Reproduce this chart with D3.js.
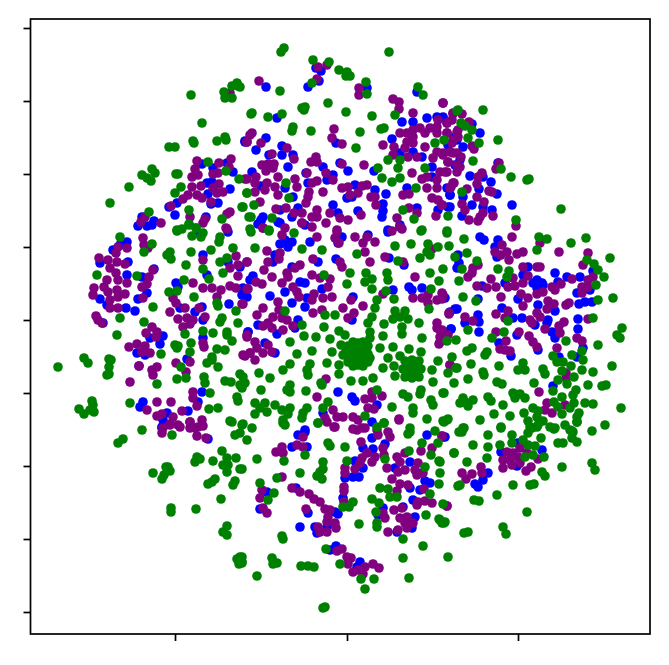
<!DOCTYPE html>
<html>
<head>
<meta charset="utf-8">
<script src="https://cdnjs.cloudflare.com/ajax/libs/d3/7.8.5/d3.min.js"></script>
<style>
  html, body { margin: 0; padding: 0; background: #fff; }
  svg { display: block; }
</style>
</head>
<body>
<div id="chart"></div>
<script>
const SVG_W = 669;
const SVG_H = 665;
const DOT_R = 4.8;

// axis ticks carry no labels in the source, units are embedding units
const xTicks = [-172, 0, 171];
const yTicks = [-292, -219, -146, -73, 0, 73, 146, 219, 292];

const blue = [
[-102,178],[-145,156],[-134,152],[-120,157],[-114,148],[-140,137],[-135,138],[-117,131],[-139,126],[-129,117],[-136,116],[-170,117],[-178,113],[-172,105],[-141,103],[-193,99],[-205,103],[-209,94],[-200,94],[-195,95],[-119,88],
[-81,233],[-39,233],[-28,239],[-31,252],[-26,249],[70,228],[20,232],[-70,202],[-102,179],[-81,182],[-91,170],[-11,177],[-65,174],[-78,165],[-65,165],[-54,165],[-59,153],[-7,157],[1,149],[-24,153],[-95,148],[-41,147],[-14,145],[-39,137],[-20,140],[8,135],[27,149],[28,130],[39,126],[0,122],[5,123],[-54,123],[-62,132],[-86,134],[-14,115],[-49,112],[11,109],[36,116],[36,109],[35,103],[-84,103],[-86,100],[-55,103],[-67,110],[55,198],[66,198],[80,202],[45,181],[96,203],[53,167],[66,168],[85,153],[60,132],[70,112],[103,125],[101,113],[91,110],[85,143],[75,163],[110,180],[53,95],[41,90],[90,203],[-67,97],[-89,96],[-42,95],[-9,107],
[96,202],[125,196],[133,187],[108,183],[116,173],[101,175],[113,160],[108,155],[123,144],[136,143],[144,138],[150,126],[100,132],[103,125],[132,131],[116,123],[165,115],[125,115],[103,113],[136,113],[145,110],[115,104],[151,157],
[-220,78],[-234,70],[-227,75],[-247,57],[-219,58],[-193,51],[-220,45],[-205,43],[-200,27],[-209,21],[-171,37],[-169,33],[-247,21],[-240,15],[-221,12],[-212,9],[-145,13],[-152,8],[-167,12],[-144,0],[-118,16],[-144,65],[-140,45],[-97,40],[-100,23],[-119,58],[-244,-3],[-184,-16],[-197,-18],[-187,-24],[-210,-33],[-202,-35],[-208,-46],[-160,-39],[-144,-18],[-145,-72],[-149,-82],[-204,-82],[-207,-87],[-180,-93],[-159,-91],[-184,-100],[-185,-108],[-99,-12],[-149,87],
[-86,99],[-69,98],[-55,78],[-62,80],[-67,76],[-59,73],[-72,65],[-74,58],[-37,78],[-5,83],[-9,77],[21,85],[41,88],[53,93],[42,62],[-29,58],[-11,61],[57,55],[111,65],[-55,53],[-94,44],[-47,38],[-42,37],[-25,31],[62,33],[65,30],[75,32],[46,30],[98,22],[-62,28],[-77,24],[-40,22],[-42,13],[-55,17],[-104,32],[-104,25],[6,23],[5,0],[103,8],[110,11],[-89,-5],[-49,0],[-52,-8],[-70,-14],[-99,-12],[104,-9],[-82,-23],[-72,-33],[-9,-72],[5,-77],[8,-81],[30,-85],[-24,-93],[25,-102],[-42,-110],[-107,53],[-105,25],
[133,83],[137,80],[151,80],[148,73],[150,63],[112,57],[110,52],[181,53],[176,45],[208,47],[220,43],[233,43],[246,49],[135,34],[158,37],[186,37],[191,38],[196,35],[190,32],[211,38],[230,27],[243,30],[238,18],[232,16],[245,18],[131,21],[108,11],[171,21],[191,15],[208,9],[155,12],[131,5],[175,2],[166,2],[231,1],[201,0],[200,-3],[188,-5],[104,-9],[118,-3],[132,-2],[132,-12],[170,-15],[231,-9],[205,-12],[208,-18],[152,-23],[191,-30],[164,-36],[236,-28],[230,-37],[212,-37],[206,-66],[190,40],[195,37],
[-139,-119],[-185,-107],
[-55,-127],[-42,-112],[-49,-115],[-40,-127],[25,-118],[16,-128],[26,-129],[38,-124],[80,-115],[96,-117],[8,-141],[6,-157],[12,-157],[16,-148],[-2,-158],[63,-142],[48,-148],[78,-161],[83,-163],[63,-168],[73,-170],[66,-180],[-80,-172],[-87,-189],[-39,-193],[-9,-194],[-12,-192],[-4,-178],[-20,-207],[-47,-207],[-32,-207],[-30,-213],[36,-188],[31,-195],[56,-187],[68,-197],[65,-208],[50,-212],[-11,-226],[-17,-230],[13,-242],[10,-247],[75,-153],[-51,-168],
[195,-130],[171,-123],[154,-132],[141,-153],[136,-160],[128,-164],[131,-167],[170,-146],[98,-117]
];

const purple = [
[-117,227],[-97,185],[-100,178],[-150,159],[-128,157],[-116,161],[-118,153],[-152,151],[-149,145],[-155,143],[-134,146],[-129,147],[-102,141],[-155,133],[-146,134],[-128,136],[-134,132],[-124,128],[-130,127],[-159,125],[-164,121],[-150,125],[-145,122],[-136,118],[-176,114],[-117,108],[-120,106],[-142,101],[-144,97],[-157,103],[-202,103],[-206,98],[-186,97],[-121,92],
[-88,239],[-29,253],[-20,255],[-30,241],[12,232],[12,225],[46,221],[52,218],[52,211],[96,217],[66,207],[-13,191],[-95,187],[-100,178],[-86,177],[-15,182],[-5,176],[36,175],[47,173],[-60,172],[-75,166],[-53,161],[-31,163],[-36,158],[-30,158],[-5,156],[17,155],[-85,155],[-79,156],[-73,156],[-81,149],[-74,152],[-69,143],[-40,147],[-21,147],[-14,140],[-91,143],[-100,141],[-92,137],[-80,137],[-82,130],[-72,133],[-69,125],[-92,128],[-52,141],[-50,133],[-30,139],[-35,137],[-38,128],[-39,123],[-41,117],[-24,128],[-5,132],[1,133],[3,125],[11,127],[15,134],[20,135],[24,123],[28,123],[29,115],[56,125],[62,126],[-87,118],[-71,111],[-61,112],[-53,107],[-45,107],[-30,110],[-35,103],[-30,103],[-17,107],[-7,102],[1,100],[14,105],[50,102],[-45,97],[-21,97],[-35,93],[-62,92],[-84,92],[53,93],[70,107],[62,112],[89,104],[-10,90],
[53,187],[60,187],[66,190],[73,192],[66,183],[78,187],[60,178],[58,172],[66,177],[61,163],[70,163],[78,173],[90,193],[83,192],[91,200],[100,197],[106,207],[105,200],[100,187],[110,188],[90,187],[106,180],[90,168],[96,165],[103,168],[110,167],[101,158],[86,162],[110,155],[46,165],[65,147],[93,148],[100,148],[80,143],[75,141],[90,140],[80,132],[90,132],[106,137],[103,132],[85,122],[91,120],[95,115],
[96,217],[106,206],[115,206],[122,198],[100,197],[111,190],[111,183],[100,187],[105,177],[125,174],[127,171],[96,167],[106,167],[114,163],[101,158],[113,153],[110,148],[98,148],[152,157],[149,151],[135,147],[131,143],[130,136],[107,137],[104,133],[120,131],[142,129],[145,128],[130,123],[137,118],[115,116],[118,110],[136,107],[133,103],[146,104],[122,100],[131,99],[95,115],[169,94],
[-204,82],[-203,75],[-199,72],[-229,73],[-220,72],[-231,67],[-248,62],[-239,60],[-230,58],[-222,56],[-237,52],[-231,47],[-194,50],[-198,43],[-200,36],[-205,33],[-204,22],[-240,40],[-229,40],[-220,37],[-253,32],[-254,25],[-243,33],[-239,28],[-230,30],[-222,26],[-237,20],[-229,23],[-237,12],[-229,12],[-251,4],[-249,0],[-245,-3],[-144,60],[-154,37],[-144,32],[-135,32],[-126,30],[-130,23],[-117,34],[-111,32],[-100,31],[-105,16],[-174,22],[-171,17],[-177,8],[-162,12],[-148,12],[-142,3],[-169,1],[-160,2],[-154,0],[-164,-7],[-157,-4],[-111,64],[-109,55],[-100,58],[-120,91],[-117,52],[-109,44],[-195,-7],[-201,-13],[-190,-12],[-191,-17],[-218,-27],[-210,-24],[-202,-26],[-205,-32],[-197,-33],[-208,-46],[-190,-47],[-195,-50],[-194,-55],[-217,-62],[-171,-43],[-157,-42],[-161,-52],[-144,-23],[-143,-27],[-100,-15],[-102,-36],[-97,-33],[-154,-72],[-154,-78],[-150,-86],[-190,-82],[-176,-82],[-200,-90],[-190,-96],[-185,-94],[-174,-97],[-165,-91],[-177,-104],[-169,-105],[-157,-102],[-145,-100],[-149,-107],[-157,-108],
[-84,92],[-65,85],[-45,97],[-30,83],[-10,88],[-12,82],[8,83],[-8,77],[20,83],[16,77],[28,78],[18,68],[23,58],[38,63],[45,89],[55,91],[56,58],[85,71],[-80,69],[-67,67],[-68,61],[-100,58],[-79,58],[-83,50],[-34,61],[-7,58],[-5,53],[-47,55],[-52,52],[-60,47],[-59,43],[-35,45],[-27,42],[-17,41],[-19,33],[-75,43],[-65,37],[-91,38],[-85,36],[-99,31],[-54,33],[-50,28],[-48,23],[-33,26],[-35,20],[-24,22],[-15,23],[4,20],[16,14],[-4,12],[-25,10],[-34,7],[7,7],[1,2],[-104,16],[-84,12],[-90,5],[-69,18],[-68,10],[-74,3],[-65,2],[-79,-3],[-84,-6],[-75,-8],[-64,-10],[-54,-6],[-60,0],[-100,-17],[-92,-22],[-79,-25],[-90,-28],[-75,-32],[-84,-33],[-97,-33],[-104,-35],[-92,-40],[68,43],[66,22],[75,22],[81,25],[81,17],[90,20],[95,27],[102,7],[90,-3],[95,-10],[90,-8],[93,-17],[92,-24],[36,26],[103,-45],[-21,-59],[-30,-77],[25,-72],[35,-76],[18,-79],[25,-78],[27,-89],[21,-88],[-14,-90],[-22,-98],[-10,-97],[-4,-97],[6,-97],[11,-100],[52,-99],[-12,-107],[6,-109],[15,-108],
[165,83],[193,77],[212,68],[241,67],[155,75],[148,68],[154,65],[160,68],[162,60],[170,66],[176,68],[236,55],[176,53],[190,53],[193,53],[131,55],[126,52],[125,47],[121,43],[144,41],[166,42],[181,44],[225,41],[246,43],[241,40],[130,34],[140,32],[149,33],[161,33],[168,34],[176,37],[205,33],[214,36],[208,30],[235,33],[241,33],[235,27],[196,28],[190,26],[174,26],[181,22],[154,23],[96,25],[95,21],[176,14],[201,19],[207,16],[222,17],[219,15],[161,9],[149,6],[158,2],[200,11],[190,7],[193,3],[183,0],[185,-3],[102,6],[118,3],[126,-1],[241,1],[217,-2],[212,-6],[213,-13],[198,-9],[172,-12],[149,-12],[230,-18],[235,-21],[182,-16],[186,-22],[190,-27],[159,-21],[153,-29],[158,-30],[163,-31],[210,-28],[93,-10],[96,-15],[101,-15],[93,-22],[103,-45],[219,-53],[219,-58],[192,-72],[200,-83],[198,-90],[205,-93],[218,-85],
[-185,-113],[-184,-108],[-177,-105],[-167,-107],[-157,-102],[-152,-108],[-150,-116],[-144,-106],[-141,-118],
[-20,-102],[-13,-107],[10,-110],[18,-108],[30,-110],[31,-115],[41,-112],[43,-117],[14,-122],[52,-100],[-44,-117],[-50,-125],[-44,-127],[-65,-127],[-71,-132],[-64,-133],[95,-116],[85,-128],[74,-131],[36,-128],[50,-137],[58,-133],[71,-143],[20,-133],[28,-137],[15,-138],[25,-142],[13,-143],[8,-149],[37,-135],[40,-148],[53,-142],[51,-152],[58,-150],[68,-150],[70,-155],[76,-153],[-2,-148],[-2,-153],[-65,-157],[45,-159],[53,-164],[61,-165],[50,-171],[77,-169],[-3,-167],[-3,-171],[-55,-168],[-47,-172],[-38,-174],[-33,-179],[-27,-182],[-3,-182],[-85,-170],[-87,-178],[-84,-188],[-80,-193],[-41,-189],[-22,-189],[-17,-190],[-19,-197],[-20,-202],[-12,-203],[-11,-208],[-29,-207],[-27,-212],[-20,-212],[71,-182],[70,-185],[78,-181],[85,-183],[100,-186],[47,-190],[55,-188],[36,-193],[38,-198],[53,-198],[60,-197],[58,-203],[66,-203],[60,-208],[51,-210],[41,-212],[-10,-231],[-5,-229],[0,-237],[4,-238],[1,-244],[6,-252],[11,-250],[18,-247],[16,-254],[26,-244],[32,-248],
[95,-116],[160,-132],[166,-133],[173,-128],[156,-140],[163,-140],[171,-137],[180,-133],[156,-148],[173,-143],[165,-145],[191,-139],[184,-147],[179,-151],[134,-147],[135,-153],[115,-153],[125,-154],[119,-159],[100,-186]
];

const green = [
[-110,237],[-115,234],[-109,234],[-156,225],[-123,228],[-122,222],[-115,222],[-145,197],[-154,179],[-153,177],[-178,173],[-172,173],[-130,179],[-122,183],[-121,180],[-195,151],[-192,147],[-205,145],[-200,142],[-196,139],[-218,133],[-237,117],[-171,146],[-169,146],[-166,133],[-172,127],[-139,158],[-121,149],[-108,141],[-100,127],[-105,113],[-98,103],[-96,206],[-198,108],[-158,110],[-125,101],[-158,96],[-170,90],[-165,91],[-151,92],
[-63,272],[-66,268],[42,268],[-34,260],[-18,258],[-8,250],[0,248],[-1,244],[3,244],[19,238],[-35,237],[-67,229],[20,226],[71,233],[76,225],[-19,217],[-42,213],[-45,212],[-43,210],[-95,207],[-79,203],[-65,206],[-1,208],[25,204],[48,205],[110,209],[-54,193],[-55,189],[-36,189],[13,188],[37,192],[34,191],[9,172],[97,180],[88,177],[41,160],[53,160],[51,152],[31,152],[78,152],[35,142],[45,138],[53,142],[69,132],[-61,137],[-100,127],[-58,122],[-93,115],[-104,113],[-96,103],[-75,102],[56,110],[67,101],[101,104],[-97,91],[-78,90],[75,90],[100,89],[-107,233],
[111,210],[136,210],[114,197],[118,194],[125,190],[151,180],[121,182],[132,177],[126,159],[154,151],[164,143],[180,140],[182,141],[115,128],[214,111],[169,100],
[-227,83],[-195,76],[-203,68],[-170,89],[-158,95],[-151,92],[-155,84],[-144,87],[-146,83],[-127,83],[-128,78],[-156,68],[-136,70],[-177,68],[-180,65],[-176,61],[-161,55],[-114,72],[-120,62],[-127,58],[-144,51],[-124,47],[-138,41],[-250,45],[-210,44],[-163,40],[-178,28],[-170,29],[-153,23],[-130,17],[-129,14],[-194,13],[-111,9],[-227,2],[-203,-2],[-109,-3],[-125,2],[-127,-2],[-230,-15],[-162,-14],[-144,-11],[-134,-13],[-120,-12],[-120,-15],[-115,-21],[-172,-25],[-169,-26],[-170,-28],[-156,-23],[-157,-32],[-186,-34],[-130,-29],[-122,-30],[-135,-37],[-140,-43],[-135,-40],[-129,-47],[-263,-38],[-259,-43],[-238,-39],[-236,-40],[-238,-47],[-238,-54],[-240,-55],[-289,-47],[-166,-47],[-170,-59],[-161,-58],[-190,-64],[-143,-57],[-142,-63],[-137,-73],[-122,-61],[-116,-62],[-107,-54],[-107,-65],[-110,-77],[-109,-81],[-217,-83],[-255,-81],[-254,-85],[-268,-89],[-257,-90],[-263,-94],[-253,-92],[-138,-89],[-129,-88],[-117,-101],[-105,-105],[-205,-110],
[-96,88],[-78,89],[-53,87],[-92,72],[-45,71],[-25,70],[10,66],[74,89],[100,87],[48,74],[64,76],[81,76],[91,73],[102,74],[80,68],[73,62],[83,65],[51,59],[108,63],[96,51],[-23,45],[3,47],[0,36],[19,47],[18,38],[25,41],[25,31],[40,47],[41,40],[83,47],[92,39],[84,31],[39,29],[47,21],[30,20],[28,12],[25,3],[21,-3],[-62,9],[-22,5],[-12,5],[48,9],[58,9],[53,3],[46,1],[61,1],[55,-7],[55,-14],[37,-4],[82,11],[72,-3],[-45,-5],[-23,-7],[-8,-11],[-2,-15],[-43,-16],[-31,-17],[-17,-19],[23,-12],[36,-16],[23,-18],[75,-18],[100,-21],[-57,-22],[-6,-25],[33,-28],[46,-27],[62,-29],[74,-32],[-35,-31],[-15,-32],[-50,-34],[53,-36],[41,-38],[105,-37],[91,-41],[-4,-35],[-20,-43],[-8,-45],[-57,-44],[-64,-50],[-37,-44],[-40,-50],[-39,-55],[36,-48],[47,-46],[85,-50],[109,-48],[101,-53],[-88,-53],[-77,-58],[-8,-54],[4,-61],[16,-61],[26,-58],[48,-56],[86,-62],[-104,-57],[-102,-63],[-105,-68],[-86,-70],[-57,-65],[-60,-70],[-57,-72],[-25,-65],[-26,-63],[-41,-71],[30,-70],[74,-70],[73,-74],[96,-73],[56,-74],[61,-77],[84,-80],[86,-85],[-19,-82],[-24,-88],[-92,-83],[-82,-83],[-87,-88],[-80,-92],[-92,-94],[-72,-85],[-57,-88],[-65,-90],[-59,-94],[45,-87],[66,-88],[66,-93],[-40,-88],[-44,-93],[-45,-98],[-64,-100],[-62,-105],[18,-96],[37,-103],[80,-99],[97,-102],[101,-99],[-29,-103],[63,-108],[-104,-104],[-95,-108],[30,-107],
[11,-34],[5,-28],[17,-28],[1,-34],[21,-34],[5,-40],[17,-40],[11,-23],[11,-45],[1,-26],[21,-26],[1,-42],[21,-42],[11,-28],[11,-40],[5,-34],[17,-34],[-1,-30],[23,-38],[6,-22],[16,-22],[6,-46],[16,-46],
[65,-49],[60,-44],[70,-44],[60,-54],[70,-54],[56,-49],[74,-49],[65,-40],[65,-58],[58,-41],[72,-41],[58,-57],[72,-57],[65,-44],[65,-54],[60,-49],[70,-49],
[192,83],[200,81],[224,77],[239,82],[117,81],[190,70],[120,67],[130,59],[263,62],[240,60],[247,56],[251,50],[115,51],[151,51],[162,49],[160,43],[257,43],[112,39],[249,35],[116,23],[129,19],[251,20],[266,22],[161,-1],[246,2],[157,-12],[121,-10],[145,-18],[109,-20],[275,-8],[270,-15],[273,-18],[219,-21],[251,-25],[125,-28],[120,-31],[140,-32],[138,-35],[235,-31],[225,-35],[206,-36],[236,-40],[210,-42],[216,-42],[124,-44],[152,-46],[176,-43],[171,-50],[178,-50],[224,-46],[235,-50],[196,-49],[198,-54],[265,-46],[110,-48],[136,-52],[215,-51],[246,-52],[121,-59],[137,-55],[107,-63],[150,-62],[155,-64],[187,-63],[227,-57],[211,-60],[220,-64],[241,-65],[255,-66],[259,-65],[206,-71],[229,-70],[226,-75],[97,-73],[141,-77],[144,-81],[166,-73],[173,-74],[168,-78],[178,-78],[215,-77],[116,-78],[126,-80],[113,-83],[121,-86],[118,-82],[156,-85],[207,-82],[227,-83],[211,-87],[223,-88],[238,-83],[246,-84],[274,-88],[186,-88],[191,-91],[177,-93],[147,-94],[163,-96],[215,-94],[232,-93],[230,-97],[230,-102],[190,-97],[100,-100],[96,-101],[133,-100],[181,-101],[196,-101],[191,-105],[218,-105],[258,-105],[154,-107],[203,-107],[208,-108],[116,-108],[245,-111],[185,-108],[225,-111],
[-224,-119],[-229,-123],[-175,-115],[-115,-102],[-107,-113],[-112,-115],[-100,-120],[-125,-131],[-120,-138],[-111,-138],[-134,-141],[-150,-137],[-147,-139],[-152,-142],[-124,-145],[-119,-145],[-120,-152],[-107,-149],[-179,-147],[-181,-147],[-177,-151],[-194,-153],[-183,-155],[-185,-159],[-132,-159],[-139,-164],[-135,-162],[-112,-161],[-114,-165],[-126,-179],[-176,-188],[-176,-192],[-151,-189],[-120,-206],[-124,-212],[-120,-215],[-107,-237],[-110,-239],[-105,-242],[-108,-244],
[-64,-103],[-29,-103],[37,-103],[63,-112],[61,-114],[88,-111],[75,-123],[91,-123],[112,-112],[-19,-123],[-17,-126],[-2,-127],[-42,-135],[84,-135],[107,-133],[62,-131],[-90,-139],[-63,-141],[0,-141],[38,-139],[92,-141],[-24,-142],[-24,-149],[-105,-149],[78,-147],[-47,-153],[-27,-152],[-30,-156],[-25,-159],[-70,-158],[93,-153],[-87,-163],[92,-164],[111,-166],[33,-168],[41,-169],[-73,-173],[-79,-180],[83,-174],[43,-177],[50,-177],[6,-182],[25,-179],[32,-183],[-4,-187],[2,-187],[96,-184],[29,-192],[79,-195],[92,-199],[95,-203],[98,-202],[12,-204],[30,-203],[30,-207],[-65,-216],[-64,-219],[56,-219],[76,-226],[-21,-229],[56,-238],[101,-237],[-75,-238],[-74,-244],[-70,-243],[-105,-237],[-105,-243],[-46,-246],[-39,-246],[-33,-247],[-7,-244],[-90,-256],[14,-259],[27,-259],[62,-258],[18,-269],[-22,-287],[-24,-288],
[117,-108],[115,-112],[154,-108],[141,-115],[165,-115],[181,-113],[176,-120],[194,-118],[190,-107],[183,-107],[207,-109],[230,-102],[226,-112],[223,-110],[225,-118],[230,-122],[216,-123],[211,-123],[126,-125],[141,-127],[153,-125],[165,-123],[181,-125],[188,-126],[186,-135],[178,-137],[197,-137],[107,-133],[140,-138],[120,-142],[93,-142],[215,-147],[245,-143],[248,-150],[195,-152],[198,-156],[113,-165],[166,-165],[183,-165],[187,-164],[150,-175],[127,-180],[132,-181],[180,-192],[93,-200],[97,-203],[156,-207],[159,-214],[117,-213],[121,-212]
];

const series = [
  { name: "blue", color: "#0000ff", values: blue },
  { name: "purple", color: "#800080", values: purple },
  { name: "green", color: "#008000", values: green }
];

const margin = { top: 19, right: 19, bottom: 31, left: 30.5 };

const x = d3.scaleLinear()
  .domain([-316.5, 303])
  .range([margin.left, SVG_W - margin.right]);

const y = d3.scaleLinear()
  .domain([-314, 301])
  .range([SVG_H - margin.bottom, margin.top]);

const svg = d3.select("#chart").append("svg")
  .attr("width", SVG_W)
  .attr("height", SVG_H);

series.forEach(s => {
  svg.append("g")
    .attr("class", "dots-" + s.name)
    .attr("fill", s.color)
    .selectAll("circle")
    .data(s.values)
    .join("circle")
    .attr("cx", d => x(d[0]))
    .attr("cy", d => y(d[1]))
    .attr("r", DOT_R);
});

var styleAxis = (g) => {
  g.selectAll("line").attr("stroke", "#000").attr("stroke-width", 1.7);
  g.select(".domain").remove();
}

svg.append("g")
  .attr("transform", "translate(0," + (SVG_H - margin.bottom) + ")")
  .call(d3.axisBottom(x).tickValues(xTicks).tickSize(7).tickFormat(""))
  .call(styleAxis);

svg.append("g")
  .attr("transform", "translate(" + margin.left + ",0)")
  .call(d3.axisLeft(y).tickValues(yTicks).tickSize(7).tickFormat(""))
  .call(styleAxis);

svg.append("rect")
  .attr("x", margin.left)
  .attr("y", margin.top)
  .attr("width", SVG_W - margin.left - margin.right)
  .attr("height", SVG_H - margin.top - margin.bottom)
  .attr("fill", "none")
  .attr("stroke", "#000")
  .attr("stroke-width", 1.7);
</script>
</body>
</html>
